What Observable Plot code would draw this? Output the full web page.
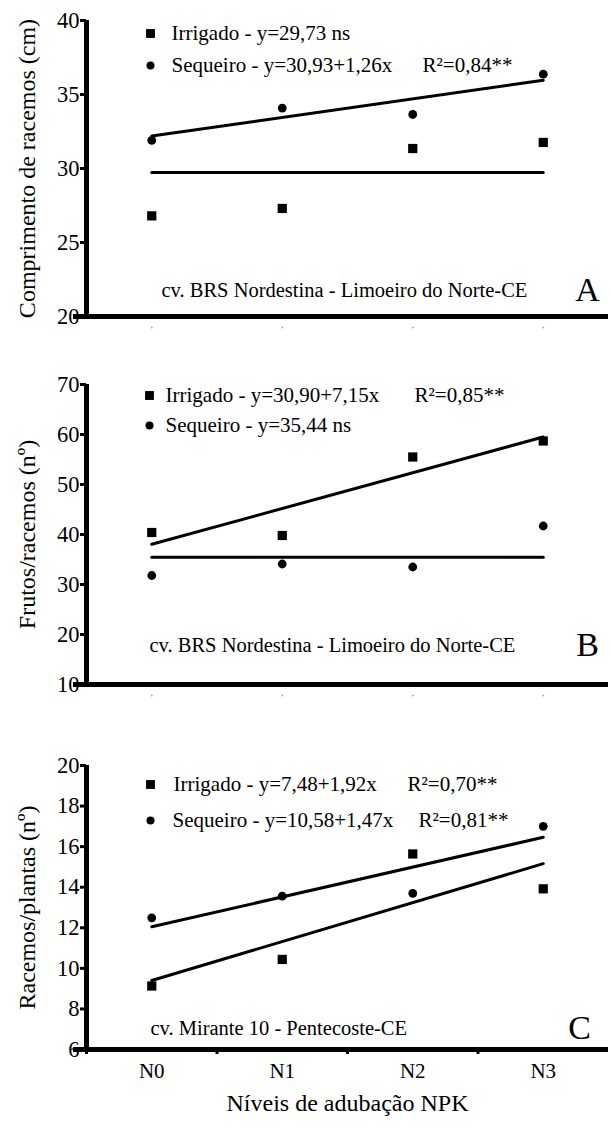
<!DOCTYPE html>
<html>
<head>
<meta charset="utf-8">
<script src="https://cdn.jsdelivr.net/npm/d3@7"></script>
<script src="https://cdn.jsdelivr.net/npm/@observablehq/plot@0.6"></script>
<style>
  html, body { margin: 0; padding: 0; background: #fff; overflow: hidden; }
  #chart svg { display: block; }
</style>
</head>
<body>
<div id="chart"></div>
<script>
// ---- data ----
const levels = ["N0", "N1", "N2", "N3"];
const levelPos = [1, 2, 3, 4];

const irrA = [26.8, 27.3, 31.35, 31.76];
const seqA = [31.9, 34.08, 33.65, 36.37];
const irrB = [40.4, 39.8, 55.5, 58.7];
const seqB = [31.8, 34.1, 33.5, 41.7];
const irrC = [9.13, 10.44, 15.64, 13.92];
const seqC = [12.49, 13.56, 13.7, 17.0];

// fitted equations: [intercept, slope]
const fitIrrA = [29.73, 0];
const fitSeqA = [30.93, 1.26];
const fitIrrB = [30.90, 7.15];
const fitSeqB = [35.44, 0];
const fitIrrC = [7.48, 1.92];
const fitSeqC = [10.58, 1.47];

const ticksA = [20, 25, 30, 35, 40];
const ticksB = [10, 20, 30, 40, 50, 60, 70];
const ticksC = [6, 8, 10, 12, 14, 16, 18, 20];

const FONT = "'Liberation Serif', 'Times New Roman', Times, serif";

function fitLine([a, b]) {
  return [levelPos[0], levelPos[levelPos.length - 1]].map(x => ({x, y: a + b * x}));
}
function pts(vals) {
  return vals.map((v, i) => ({x: levelPos[i], y: v}));
}

function panel(o) {
  const [y0, y1] = [o.ticks[0], o.ticks[o.ticks.length - 1]];
  const marks = [
    // regression lines
    Plot.line(fitLine(o.fitIrr), {x: "x", y: "y", stroke: "black", strokeWidth: 3}),
    Plot.line(fitLine(o.fitSeq), {x: "x", y: "y", stroke: "black", strokeWidth: 3}),
    // observations
    Plot.dot(pts(o.irr), {x: "x", y: "y", symbol: "square", r: 5.2, fill: "black", stroke: "none"}),
    Plot.dot(pts(o.seq), {x: "x", y: "y", symbol: "circle", r: 4.4, fill: "black", stroke: "none"}),
    // y axis ticks
    Plot.axisY({ticks: o.ticks, tickSize: 6, tickPadding: 1, strokeWidth: 3, fontSize: 22.5, label: null, tickFormat: d => String(d), fontFamily: FONT}),
    // axis lines
    Plot.ruleX([0.5], {y1: y0, y2: y1, stroke: "black", strokeWidth: 5}),
    Plot.ruleY([y0], {x1: 0.4, x2: 4.5, stroke: "black", strokeWidth: 5}),
    // y label
    Plot.text([o.ylabel], {frameAnchor: "left", textAnchor: "middle", dx: -59, rotate: -90, fontSize: 24, fill: "black"}),
    // legend
    Plot.dot([0], {frameAnchor: "top-left", dx: o.lg.mx, dy: o.lg.y1, symbol: "square", r: 5, fill: "black"}),
    Plot.dot([0], {frameAnchor: "top-left", dx: o.lg.mx, dy: o.lg.y2, symbol: "circle", r: 4, fill: "black"}),
    Plot.text([o.lg.t1], {frameAnchor: "top-left", dx: o.lg.tx1, dy: o.lg.y1, textAnchor: "start", lineAnchor: "middle", fontSize: 21, fill: "black"}),
    Plot.text([o.lg.t2], {frameAnchor: "top-left", dx: o.lg.tx2, dy: o.lg.y2, textAnchor: "start", lineAnchor: "middle", fontSize: 21, fill: "black"}),
    // site note + panel letter
    Plot.text([o.note], {frameAnchor: "bottom-left", dx: o.noteX, dy: -o.noteUp, textAnchor: "start", lineAnchor: "middle", fontSize: 20.5, fill: "black"}),
    Plot.text([o.letter], {frameAnchor: "bottom-left", dx: o.letterX, dy: -o.noteUp, textAnchor: "middle", lineAnchor: "middle", fontSize: 34, fill: "black"})
  ];
  if (o.lg.r1) marks.push(Plot.text([o.lg.r1], {frameAnchor: "top-left", dx: o.lg.rx1, dy: o.lg.y1, textAnchor: "start", lineAnchor: "middle", fontSize: 21, fill: "black"}));
  if (o.lg.r2) marks.push(Plot.text([o.lg.r2], {frameAnchor: "top-left", dx: o.lg.rx2, dy: o.lg.y2, textAnchor: "start", lineAnchor: "middle", fontSize: 21, fill: "black"}));
  if (o.xlabels) {
    marks.push(
      Plot.axisX({ticks: [0.5, 1.5, 2.5, 3.5], tickSize: 5, strokeWidth: 3, tickFormat: () => "", label: null}),
      Plot.axisX({ticks: levelPos, tickSize: 0, tickPadding: 14, fontSize: 21, tickFormat: d => levels[d - 1], label: null, fontFamily: FONT}),
      Plot.text(["Níveis de adubação NPK"], {frameAnchor: "bottom", dy: 61, fontSize: 24, fill: "black"})
    );
  } else {
    marks.push(Plot.dot(levelPos, {x: d => d, frameAnchor: "bottom", dy: 11, r: 1, fill: "#aaa"}));
  }
  return Plot.plot({
    width: 610,
    height: o.height,
    marginLeft: 86,
    marginRight: 2,
    marginTop: o.mt,
    marginBottom: o.mb,
    x: {domain: [0.5, 4.5], axis: null},
    y: {domain: [y0, y1], axis: null},
    style: {fontFamily: FONT, background: "white", color: "black", overflow: "visible"},
    marks
  });
}

const chart = document.getElementById("chart");

chart.append(panel({
  height: 340, mt: 20, mb: 24,
  ticks: ticksA, irr: irrA, seq: seqA, fitIrr: fitIrrA, fitSeq: fitSeqA,
  ylabel: "Comprimento de racemos (cm)",
  lg: {mx: 64, tx1: 85, tx2: 85, y1: 13, y2: 45,
       t1: "Irrigado - y=29,73 ns", t2: "Sequeiro - y=30,93+1,26x",
       r2: "R²=0,84**", rx2: 336},
  note: "cv. BRS Nordestina - Limoeiro do Norte-CE", noteX: 75, noteUp: 26,
  letter: "A", letterX: 501
}));

chart.append(panel({
  height: 370, mt: 44, mb: 26,
  ticks: ticksB, irr: irrB, seq: seqB, fitIrr: fitIrrB, fitSeq: fitSeqB,
  ylabel: "Frutos/racemos (nº)",
  lg: {mx: 63, tx1: 79, tx2: 79, y1: 11, y2: 41,
       t1: "Irrigado - y=30,90+7,15x", t2: "Sequeiro - y=35,44 ns",
       r1: "R²=0,85**", rx1: 328},
  note: "cv. BRS Nordestina - Limoeiro do Norte-CE", noteX: 63, noteUp: 39,
  letter: "B", letterX: 501
}));

chart.append(panel({
  height: 421, mt: 55, mb: 82,
  ticks: ticksC, irr: irrC, seq: seqC, fitIrr: fitIrrC, fitSeq: fitSeqC,
  ylabel: "Racemos/plantas (nº)",
  lg: {mx: 64, tx1: 87, tx2: 86, y1: 19, y2: 55,
       t1: "Irrigado - y=7,48+1,92x", t2: "Sequeiro - y=10,58+1,47x",
       r1: "R²=0,70**", rx1: 321, r2: "R²=0,81**", rx2: 332},
  note: "cv. Mirante 10 - Pentecoste-CE", noteX: 64, noteUp: 21,
  letter: "C", letterX: 493,
  xlabels: true
}));
</script>
</body>
</html>
